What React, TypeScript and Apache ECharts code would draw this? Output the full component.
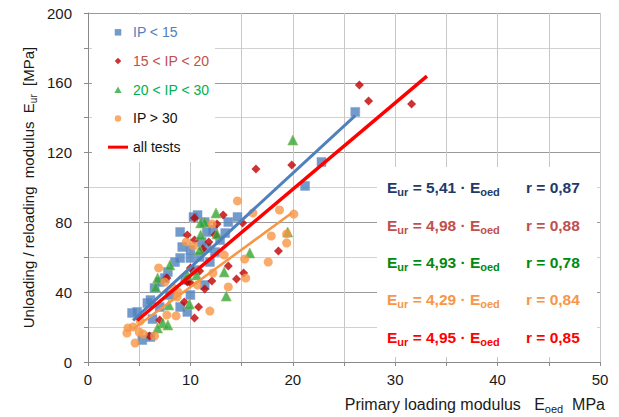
import React, { useEffect, useRef } from "react";
import * as echarts from "echarts";

// ---- data ----
const ipLt15: number[][] = [
  [26.1, 143.3], [22.8, 114.6], [21.2, 100.9], [14.6, 83.1], [13.4, 73.9], [12.2, 75.6],
  [10.7, 84.2], [10.3, 83.1], [11.4, 80.2], [9.0, 74.5], [9.2, 65.9], [10.0, 64.2],
  [11.6, 65.3], [10.9, 60.2], [11.1, 68.8], [11.6, 74.5], [9.0, 59.6], [10.0, 59.6],
  [7.8, 51.6], [7.5, 48.1], [6.5, 42.4], [7.0, 45.8], [5.8, 33.8], [6.1, 35.5],
  [4.3, 28.1], [4.8, 28.7], [9.0, 31.5], [9.7, 28.7], [5.3, 12.6], [6.1, 14.3],
  [8.5, 57.3], [11.9, 57.3], [12.4, 63.0], [10.4, 52.7], [11.4, 44.1], [9.5, 47.0],
  [8.0, 38.4], [10.0, 38.4], [7.0, 31.5], [13.7, 80.2], [12.9, 69.9], [6.3, 24.6]
];
const ip15to20: number[][] = [
  [26.5, 158.7], [27.4, 149.6], [31.6, 147.9], [16.4, 110.6], [19.9, 112.9], [10.4, 82.5],
  [13.2, 84.2], [12.6, 79.1], [15.1, 79.7], [9.7, 72.8], [10.4, 69.9], [11.8, 68.8],
  [11.2, 64.8], [18.6, 63.6], [10.0, 53.9], [10.9, 52.1], [12.1, 46.4], [14.5, 47.6],
  [15.2, 51.0], [11.4, 41.8], [9.4, 34.4], [10.8, 31.5], [10.4, 25.2], [9.7, 45.8],
  [7.7, 48.1], [10.0, 45.3], [7.0, 24.1], [6.0, 14.9], [12.4, 72.8], [13.7, 55.0]
];
const ip20to30: number[][] = [
  [20.0, 127.2], [19.5, 74.5], [15.8, 62.5], [13.3, 51.6], [13.5, 37.8], [12.5, 85.4],
  [11.4, 80.2], [11.0, 79.7], [12.6, 73.4], [11.0, 72.8], [6.8, 48.1], [6.6, 43.0],
  [9.7, 49.9], [10.6, 49.9], [7.9, 32.7], [9.9, 33.2], [7.3, 22.3], [6.8, 19.5],
  [7.8, 21.2], [10.9, 64.2], [8.0, 55.6]
];
const ipGt30: number[][] = [
  [14.6, 92.3], [16.1, 85.4], [18.7, 87.1], [20.1, 84.8], [17.9, 72.2], [19.4, 73.4],
  [19.4, 68.2], [15.3, 59.0], [17.6, 57.3], [13.3, 61.3], [15.4, 48.1], [13.7, 43.0],
  [11.9, 29.2], [12.2, 51.0], [9.6, 68.8], [10.3, 66.5], [12.1, 79.1], [6.9, 53.9],
  [8.7, 37.2], [7.7, 26.9], [8.6, 26.4], [3.9, 19.5], [3.8, 16.6], [4.4, 20.1],
  [5.0, 17.2], [5.4, 16.0], [4.6, 10.9], [6.5, 14.9], [8.3, 42.4], [8.8, 40.1],
  [5.1, 23.5], [7.5, 45.8], [10.7, 44.1]
];
const fitLt15: number[][] = [[4.4, 23.8], [26.1, 141.2]];
const fitGt30: number[][] = [[4.4, 18.9], [19.9, 85.4]];
const fitAll: number[][] = [[4.8, 23.8], [33.1, 163.8]];

const seriesNames = ["IP < 15", "15 < IP < 20", "20 < IP < 30", "IP > 30", "all tests"];
const slopes = ["5,41", "4,98", "4,93", "4,29", "4,95"];
const rValues = ["0,87", "0,88", "0,78", "0,84", "0,85"];
const xTickLabels = [0, 10, 20, 30, 40, 50];
const yTickLabels = [0, 40, 80, 120, 160, 200];

const FONT = "'Liberation Sans', Arial, Helvetica, sans-serif";
const NB = "\u00a0";
const eqColors = ["#1F3A68", "#C0504D", "#008A0E", "#F79646", "#FF0000"];
const eqRows = [187, 225, 262, 299, 337];

function eqText(i: number) {
  const c = eqColors[i];
  const m = { fontSize: 15.5, fontWeight: "bold", fontFamily: FONT, fill: c, lineHeight: 20 };
  const s = { fontSize: 11, fontWeight: "bold", fontFamily: FONT, fill: c, lineHeight: 10, verticalAlign: "bottom" };
  return [
    {
      type: "text",
      x: 387,
      y: eqRows[i],
      z: 20,
      style: {
        text: `{m|E}{s|ur}{m|${NB}=${NB}${slopes[i]}${NB}·${NB}E}{s|oed}`,
        rich: { m, s },
        verticalAlign: "middle",
        align: "left",
      },
    },
    {
      type: "text",
      x: 526,
      y: eqRows[i],
      z: 20,
      style: {
        text: `{m|r${NB}=${NB}${rValues[i]}}`,
        rich: { m },
        verticalAlign: "middle",
        align: "left",
      },
    },
  ];
}

export default function App() {
  const ref = useRef<HTMLDivElement>(null);
  useEffect(() => {
    if (!ref.current) return;
    const chart = echarts.init(ref.current, null, { renderer: "svg" });
    const legendIcons = [
      "path://M0,0L8,0L8,8L0,8Z",
      "path://M3.5,0L7,3.5L3.5,7L0,3.5Z",
      "path://M4.5,0L9,8L0,8Z",
      "path://M0,4A4,4,0,1,0,8,4A4,4,0,1,0,0,4Z",
      "path://M0,0L20,0L20,3L0,3Z",
    ];
    const legendColors = ["#4F81BD", "#C0504D", "#00B050", "#111", "#111"];
    const option: any = {
      animation: false,
      backgroundColor: "#fff",
      textStyle: { fontFamily: FONT },
      grid: { left: 88, right: 19, top: 13, bottom: 55 },
      legend: {
        orient: "vertical",
        left: 108,
        top: 25,
        padding: 0,
        itemWidth: 20,
        itemHeight: 6.5,
        itemGap: 14,
        symbolKeepAspect: true,
        itemStyle: { borderWidth: 0 },
        textStyle: { fontSize: 14, fontFamily: FONT, lineHeight: 14.7 },
        data: seriesNames.map((n, i) => ({
          name: n,
          icon: legendIcons[i],
          textStyle: { color: legendColors[i] },
        })),
      },
      xAxis: {
        type: "value",
        min: 0,
        max: 50,
        interval: 5,
        axisLine: { show: true, lineStyle: { color: "#8a8a8a", width: 1 } },
        axisTick: { show: true, length: 4, lineStyle: { color: "#8a8a8a" } },
        axisLabel: {
          fontSize: 15,
          color: "#1a1a1a",
          fontFamily: FONT,
          margin: 10,
          formatter: (v: number) => (xTickLabels.includes(v) ? String(v) : ""),
        },
        splitLine: { show: true, lineStyle: { color: "#c8c8c8", width: 1 } },
      },
      yAxis: {
        type: "value",
        min: 0,
        max: 200,
        interval: 20,
        axisLine: { show: true, lineStyle: { color: "#8a8a8a", width: 1 } },
        axisTick: { show: true, length: 4, lineStyle: { color: "#8a8a8a" } },
        axisLabel: {
          fontSize: 15,
          color: "#1a1a1a",
          fontFamily: FONT,
          margin: 16,
          formatter: (v: number) => (yTickLabels.includes(v) ? String(v) : ""),
        },
        splitLine: { show: true, lineStyle: { color: ["#9a9a9a", "#d2d2d2"], width: 1 } },
        name: "{m|Unloading / reloading  modulus  E}{s|ur}{m|  [MPa]}",
        nameLocation: "middle",
        nameGap: 50,
        nameMoveOverlap: false,
        nameTextStyle: {
          color: "#1a1a1a",
          rich: {
            m: { fontSize: 15, fontFamily: FONT, color: "#1a1a1a", lineHeight: 20 },
            s: { fontSize: 10, fontFamily: FONT, color: "#1a1a1a", lineHeight: 10, verticalAlign: "bottom" },
          },
        },
      },
      series: [
        {
          name: seriesNames[0],
          type: "scatter",
          symbol: "rect",
          symbolSize: 9,
          data: ipLt15,
          itemStyle: { color: "#4F81BD", borderColor: "#7aa0d0", borderWidth: 0.6 },
          z: 2,
        },
        {
          name: seriesNames[1],
          type: "scatter",
          symbol: "diamond",
          symbolSize: 9,
          data: ip15to20,
          itemStyle: { color: "#C00000" },
          z: 3,
        },
        {
          name: seriesNames[2],
          type: "scatter",
          symbol: "triangle",
          symbolSize: 10,
          data: ip20to30,
          itemStyle: { color: "#2DA83A", borderColor: "#9BBB59", borderWidth: 0.8 },
          z: 4,
        },
        {
          name: seriesNames[3],
          type: "scatter",
          symbol: "circle",
          symbolSize: 9,
          data: ipGt30,
          itemStyle: { color: "#F79646" },
          z: 5,
        },
        {
          name: "fitLt15",
          type: "line",
          data: fitLt15,
          symbol: "none",
          lineStyle: { color: "#4F81BD", width: 3 },
          z: 6,
        },
        {
          name: "fitGt30",
          type: "line",
          data: fitGt30,
          symbol: "none",
          lineStyle: { color: "#F79646", width: 2.5 },
          z: 6,
        },
        {
          name: seriesNames[4],
          type: "line",
          data: fitAll,
          symbol: "none",
          itemStyle: { color: "#FF0000" },
          lineStyle: { color: "#FF0000", width: 3.5 },
          z: 7,
        },
      ],
      graphic: [
        {
          type: "rect",
          z: 1,
          shape: { x: 92, y: 15, width: 123, height: 147 },
          style: { fill: "#fff" },
        },
        {
          type: "rect",
          z: 1,
          shape: { x: 377, y: 167, width: 220, height: 190 },
          style: { fill: "#fff" },
        },
        ...[0, 1, 2, 3, 4].flatMap((i) => eqText(i)),
        {
          type: "text",
          x: 605,
          y: 404,
          style: {
            text: `{m|Primary loading modulus${NB}${NB}${NB}E}{s|oed}{m|${NB}${NB}MPa}`,
            rich: {
              m: { fontSize: 16, fontFamily: FONT, fill: "#1a1a1a", lineHeight: 20 },
              s: { fontSize: 11, fontFamily: FONT, fill: "#1a1a1a", lineHeight: 10, verticalAlign: "bottom" },
            },
            align: "right",
            verticalAlign: "middle",
          },
        },
      ],
    };
    chart.setOption(option);
    return () => chart.dispose();
  }, []);
  return <div ref={ref} style={{ width: 619, height: 417, position: "absolute", left: 0, top: 0 }} />;
}
